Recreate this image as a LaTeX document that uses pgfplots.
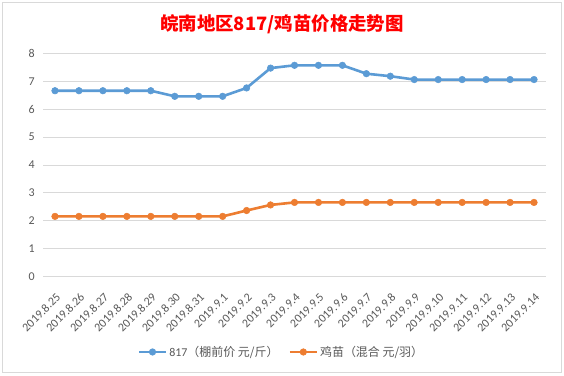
\documentclass[border=0pt]{standalone}
\usepackage{pgfplots}
\pgfplotsset{compat=1.18}
\usepackage{fontspec}
\setmainfont{Carlito}
\newfontfamily\cjk{Noto Sans CJK SC}
\definecolor{gridgray}{RGB}{217,217,217}
\definecolor{labgray}{RGB}{89,89,89}
\definecolor{sblue}{RGB}{91,155,213}
\definecolor{sorange}{RGB}{237,125,49}
\definecolor{tred}{RGB}{255,0,0}
\begin{document}
\begin{tikzpicture}[x=1bp,y=1bp]
\path[fill=white] (0,0) rectangle (564,375);
\draw[gridgray, line width=1bp] (2.5,3) rectangle (561.5,372.5);
\node[font=\cjk\bfseries\fontsize{18.5}{20}\selectfont, text=tred] at (282,350.5) {皖南地区817/鸡苗价格走势图};
\begin{axis}[
  at={(43bp,98.3bp)}, anchor=south west,
  scale only axis, width=503bp, height=223.4bp,
  xmin=-0.5, xmax=20.5, ymin=0, ymax=8,
  xtick={0,...,20},
  xticklabels={2019.8.25,2019.8.26,2019.8.27,2019.8.28,2019.8.29,2019.8.30,2019.8.31,2019.9.1,2019.9.2,2019.9.3,2019.9.4,2019.9.5,2019.9.6,2019.9.7,2019.9.8,2019.9.9,2019.9.10,2019.9.11,2019.9.12,2019.9.13,2019.9.14},
  ytick={0,1,...,8},
  ymajorgrids, grid style={gridgray, line width=1bp},
  axis line style={draw=none},
  major tick length=0pt,
  /pgf/number format/assume math mode=true,
  tick label style={font=\fontsize{12}{12}\selectfont, text=labgray},
  xticklabel style={xshift=3.5bp, yshift=-18.5bp, rotate=45, anchor=east, inner sep=0pt},
  yticklabel style={inner sep=0pt, xshift=-8bp},
  legend columns=2,
  legend style={draw=none, fill=none, at={(0.474,-0.337)}, anchor=center,
    font=\fontsize{12}{12}\selectfont, text=labgray,
    /tikz/every even column/.append style={column sep=8bp}},
  legend image code/.code={\draw[mark repeat=2,mark phase=2] plot coordinates {(0bp,0bp)(13.5bp,0bp)(27bp,0bp)};},
]
\addplot[sblue, line width=2.6bp, mark=*, mark options={scale=1.0, fill=sblue, draw=sblue, line width=0.5bp}, mark size=3.3bp] coordinates {
(0,6.66)(1,6.66)(2,6.66)(3,6.66)(4,6.66)(5,6.46)(6,6.46)(7,6.46)(8,6.76)(9,7.47)(10,7.57)(11,7.57)(12,7.57)(13,7.27)(14,7.18)(15,7.06)(16,7.06)(17,7.06)(18,7.06)(19,7.06)(20,7.06)};
\addlegendentry{817{\cjk（棚前价 元/斤）}}
\addplot[sorange, line width=2.6bp, mark=*, mark options={scale=1.0, fill=sorange, draw=sorange, line width=0.5bp}, mark size=3.3bp] coordinates {
(0,2.16)(1,2.16)(2,2.16)(3,2.16)(4,2.16)(5,2.16)(6,2.16)(7,2.16)(8,2.37)(9,2.57)(10,2.66)(11,2.66)(12,2.66)(13,2.66)(14,2.66)(15,2.66)(16,2.66)(17,2.66)(18,2.66)(19,2.66)(20,2.66)};
\addlegendentry{{\cjk 鸡苗（混合 元/羽）}}
\end{axis}
\end{tikzpicture}
\end{document}
